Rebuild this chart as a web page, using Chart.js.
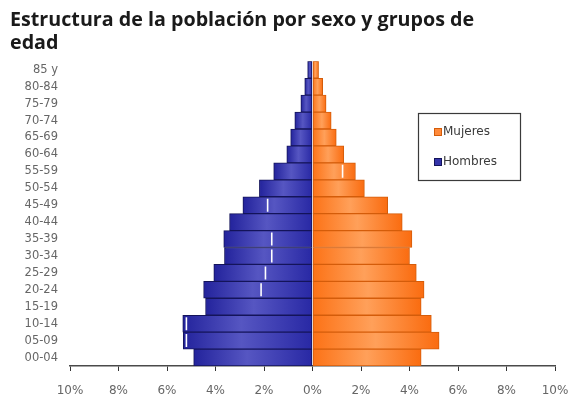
<!DOCTYPE html>
<html>
<head>
<meta charset="utf-8">
<script src="https://cdn.jsdelivr.net/npm/chart.js@4"></script>
<style>
    html, body { margin: 0; padding: 0; background: #ffffff; }
    #wrap { width: 571px; height: 400px; }
</style>
</head>
<body>
<div id="wrap"><canvas id="pyramid" width="571" height="400"></canvas></div>
<script>
// Grupos de edad (de arriba a abajo)
const grupos = ['85 y', '80-84', '75-79', '70-74', '65-69', '60-64', '55-59', '50-54', '45-49',
    '40-44', '35-39', '30-34', '25-29', '20-24', '15-19', '10-14', '05-09', '00-04'];

// Porcentaje sobre la población total
const hombres = [0.2, 0.32, 0.48, 0.73, 0.9, 1.06, 1.6, 2.19, 2.87,
    3.42, 3.66, 3.63, 4.07, 4.49, 4.41, 5.35, 5.33, 4.9];
const mujeres = [0.25, 0.42, 0.56, 0.77, 0.98, 1.29, 1.77, 2.14, 3.1,
    3.7, 4.1, 4.0, 4.28, 4.6, 4.48, 4.9, 5.22, 4.48];

// Marcas blancas dentro de las barras (serie de referencia)
const marcasHombres = [null, null, null, null, null, null, null, null, 1.85,
    null, 1.68, 1.68, 1.94, 2.12, null, 5.2, 5.2, null];
const marcasMujeres = [null, null, null, null, null, null, 1.24, null, null,
    null, null, null, null, null, null, null, null, null];

const tituloLineas = ['Estructura de la población por sexo y grupos de', 'edad'];
const ejeX = { min: -10, max: 10, paso: 2 };

// Degradado horizontal de cada barra (oscuro - claro - oscuro)
const tonos = {
    hombres: ['#23239c', '#5656c2', '#2828a4'],
    mujeres: ['#fa6c10', '#ffa05a', '#fc7216']
};

function barFill(context) {
    const chart = context.chart;
    const { ctx, chartArea, scales } = chart;
    const t = context.datasetIndex === 0 ? tonos.hombres : tonos.mujeres;
    if (!chartArea || !scales.x) return t[1];
    const v = context.raw;
    const x0 = scales.x.getPixelForValue(0);
    const x1 = scales.x.getPixelForValue(v);
    if (!isFinite(x1) || Math.abs(x1 - x0) < 1) return t[0];
    const g = ctx.createLinearGradient(x1, 0, x0, 0);
    g.addColorStop(0, t[0]);
    g.addColorStop(v < 0 ? 0.45 : 0.5, t[1]);
    g.addColorStop(1, t[2]);
    return g;
}

function marcas(valores, signo) {
    return valores.map((v, i) => v === null ? null : { x: signo * v, y: grupos[i] });
}

// Leyenda dentro del área del gráfico, con recuadro
const boxLegend = {
    id: 'boxLegend',
    afterDraw(chart) {
        const ctx = chart.ctx;
        const x = 418, y = 113, w = 102, h = 67;
        ctx.save();
        ctx.fillStyle = '#ffffff';
        ctx.fillRect(x, y, w, h);
        ctx.strokeStyle = '#3a3a3a';
        ctx.lineWidth = 1.2;
        ctx.strokeRect(x + 0.5, y + 0.5, w, h);
        const items = chart.data.datasets.filter(ds => ds.legendColor).reverse();
        items.forEach((ds, i) => {
            const cy = y + 19 + i * 30;
            ctx.fillStyle = ds.legendColor;
            ctx.fillRect(x + 16, cy - 4, 8, 8);
            ctx.strokeStyle = ds.borderColor;
            ctx.lineWidth = 1;
            ctx.strokeRect(x + 16.5, cy - 3.5, 7, 7);
            ctx.fillStyle = '#3a3a3a';
            ctx.font = '12px "DejaVu Sans"';
            ctx.textBaseline = 'middle';
            ctx.fillText(ds.label, x + 25, cy);
        });
        ctx.restore();
    }
};

const ctx = document.getElementById('pyramid').getContext('2d');
const chart = new Chart(ctx, {
    type: 'bar',
    data: {
        labels: grupos,
        datasets: [{
            label: 'Hombres',
            data: hombres.map(v => -v),
            backgroundColor: barFill,
            legendColor: '#3434aa',
            borderColor: '#14145a',
            borderWidth: 1,
            borderSkipped: false,
            grouped: false,
            barPercentage: 1,
            categoryPercentage: 1,
            order: 2
        }, {
            label: 'Mujeres',
            data: mujeres,
            backgroundColor: barFill,
            legendColor: '#ff8a3a',
            borderColor: '#d45c0a',
            borderWidth: 1,
            borderSkipped: false,
            grouped: false,
            barPercentage: 1,
            categoryPercentage: 1,
            order: 2
        }, {
            type: 'scatter',
            label: 'marcas',
            data: marcas(marcasHombres, -1).concat(marcas(marcasMujeres, 1)).filter(p => p),
            pointStyle: 'line',
            rotation: 90,
            pointRadius: 6.5,
            borderColor: '#ffffff',
            borderWidth: 1.6,
            order: 0
        }]
    },
    options: {
        indexAxis: 'y',
        responsive: false,
        animation: false,
        layout: { padding: { left: 10, right: 16, top: 0, bottom: 0 } },
        plugins: {
            legend: { display: false },
            tooltip: { enabled: false },
            title: {
                display: true,
                text: tituloLineas,
                align: 'start',
                color: '#1a1a1a',
                font: { family: '"Open Sans"', weight: 'bold', size: 19.7, lineHeight: 1.15 },
                padding: { top: 9, bottom: 7 }
            }
        },
        scales: {
            x: {
                type: 'linear',
                min: ejeX.min,
                max: ejeX.max,
                grid: { display: true, drawOnChartArea: false, drawTicks: true, tickLength: 5, color: '#333333', lineWidth: 1 },
                border: { display: true, color: '#4a4a4a', width: 1.5 },
                ticks: {
                    stepSize: ejeX.paso,
                    padding: 13,
                    color: '#666666',
                    font: { family: '"DejaVu Sans"', size: 12 },
                    callback: v => Math.abs(v) + '%'
                },
                afterFit: scale => {
                    scale.height = 34;
                    scale.paddingLeft = 0;
                    scale.paddingRight = 0;
                }
            },
            y: {
                type: 'category',
                grid: { display: false, drawTicks: false },
                border: { display: false },
                ticks: {
                    padding: 12,
                    color: '#666666',
                    font: { family: '"DejaVu Sans"', size: 11.5 }
                },
                afterFit: scale => { scale.width = 60; }
            }
        }
    },
    plugins: [boxLegend]
});
</script>
</body>
</html>
